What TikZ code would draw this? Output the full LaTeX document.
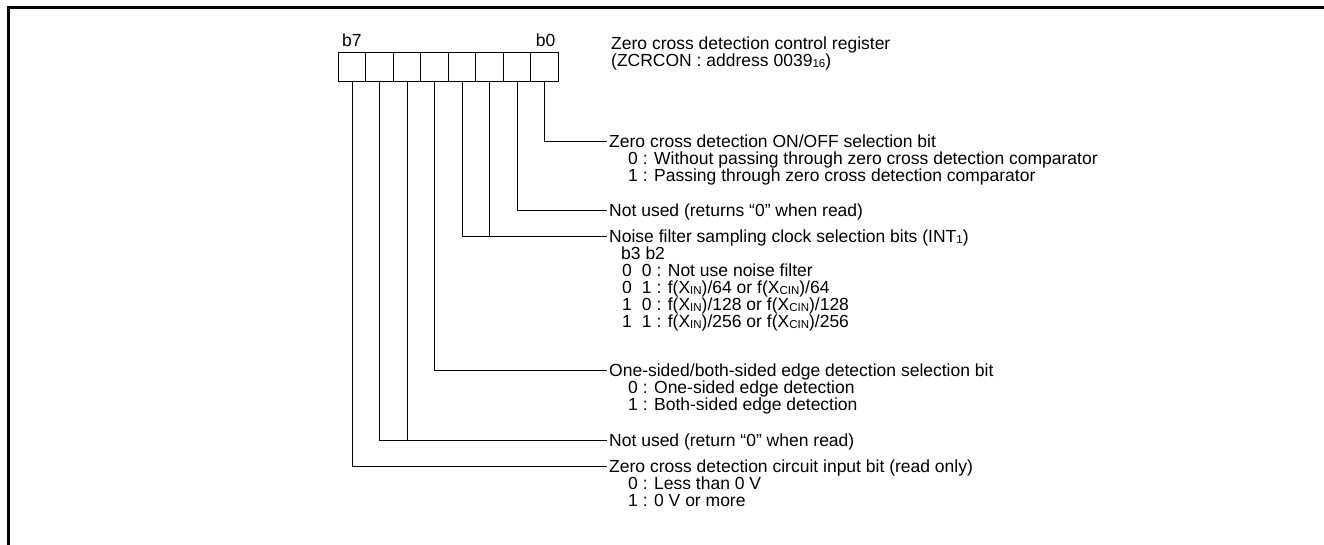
\documentclass[tikz,border=0pt]{standalone}
\usepackage{fontspec}
\setmainfont{Liberation Sans}
\newcommand{\lowsub}[1]{\raisebox{-1pt}{\fontsize{11.5}{11.5}\selectfont #1}}
\begin{document}
\begin{tikzpicture}[x=1pt,y=-1pt,
  cell/.style={draw, line width=0.9pt, minimum width=27.5pt, minimum height=28.7pt, inner sep=0pt, outer sep=0pt},
  lbl/.style={anchor=base west, inner sep=0pt, font=\fontsize{17.5}{17}\selectfont},
  wire/.style={line width=0.9pt},
  frame/.style={line width=2.6pt}]
\useasboundingbox (0,0) rectangle (1324,544);
\fill[white] (0,0) rectangle (1324,544);
% frame
\coordinate (fbl) at (8.5,545);
\coordinate (ftl) at (8.5,7.5);
\coordinate (ftr) at (1325,7.5);
\draw[frame] (fbl) -- (ftl) -- (ftr);
% register cells, b7 left ... b0 right
\foreach \k/\b in {0/7,1/6,2/5,3/4,4/3,5/2,6/1,7/0}{
  \node[cell] (c\b) at ({338.3+27.5*(\k+0.5)},66.65) {};
}
\node[lbl] (tb7) at (342,46) {b7};
\node[lbl, anchor=base east] (tb0) at (555.5,46) {b0};
% register title
\node[lbl] (reg1) at (611,49) {Zero cross detection control register};
\node[lbl] (reg2) at (611,66) {(ZCRCON : address 0039\lowsub{16})};
% line end points
\coordinate (e0) at (607,141.7);
\coordinate (e1) at (607,210);
\coordinate (e2) at (607,236.7);
\coordinate (e4) at (607,370);
\coordinate (e5) at (607,440);
\coordinate (e7) at (607,466);
% texts
\node[lbl] (t0) at (609,147.7) {Zero cross detection ON/OFF selection bit};
\node[lbl] (t0a) at (628,164.7) {0 : Without passing through zero cross detection comparator};
\node[lbl] (t0b) at (628,181.7) {1 : Passing through zero cross detection comparator};
\node[lbl] (t1) at (609,216) {Not used (returns “0” when read)};
\node[lbl] (t2) at (609,242.7) {Noise filter sampling clock selection bits (INT\lowsub{1})};
\node[lbl] (t2a) at (621,259.7) {b3 b2};
\node[lbl] (t2b) at (622,276.7) {0\hspace{10pt}0 : Not use noise filter};
\node[lbl] (t2c) at (622,293.7) {0\hspace{10pt}1 : f(X\lowsub{IN})/64 or f(X\lowsub{CIN})/64};
\node[lbl] (t2d) at (622,310.7) {1\hspace{10pt}0 : f(X\lowsub{IN})/128 or f(X\lowsub{CIN})/128};
\node[lbl] (t2e) at (622,327.7) {1\hspace{10pt}1 : f(X\lowsub{IN})/256 or f(X\lowsub{CIN})/256};
\node[lbl] (t4) at (609,376) {One-sided/both-sided edge detection selection bit};
\node[lbl] (t4a) at (628,393) {0 : One-sided edge detection};
\node[lbl] (t4b) at (628,410) {1 : Both-sided edge detection};
\node[lbl] (t5) at (609,446) {Not used (return “0” when read)};
\node[lbl] (t7) at (609,472) {Zero cross detection circuit input bit (read only)};
\node[lbl] (t7a) at (628,489) {0 : Less than 0 V};
\node[lbl] (t7b) at (628,506) {1 : 0 V or more};
% connectors
\draw[wire] (c0.south) |- (e0);
\draw[wire] (c1.south) |- (e1);
\draw[wire] (c3.south) |- (e2);
\draw[wire] (c2.south) -- (c2.south |- e2);
\draw[wire] (c4.south) |- (e4);
\draw[wire] (c6.south) |- (e5);
\draw[wire] (c5.south) -- (c5.south |- e5);
\draw[wire] (c7.south) |- (e7);
\end{tikzpicture}
\end{document}
